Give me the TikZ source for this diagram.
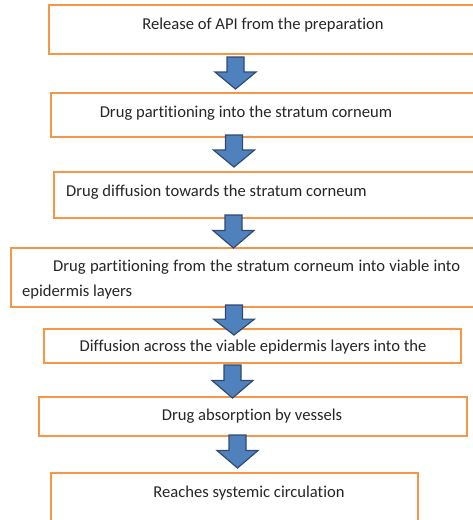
\documentclass[tikz,border=0pt]{standalone}
\usepackage{fontspec}
\setmainfont{Carlito}[Ligatures=NoCommon]
\definecolor{boxorange}{HTML}{F79646}
\definecolor{arrowfill}{HTML}{4F81BD}
\definecolor{arrowline}{HTML}{2F4B73}
\begin{document}
\begin{tikzpicture}[x=1pt,y=-1pt,
  box/.style={draw=boxorange,line width=1.3pt,fill=white},
  txt/.style={font=\fontsize{16.6}{25}\selectfont,text=black!85,inner sep=0pt},
  blockarrow/.style={fill=arrowfill,draw=arrowline,line width=1.2pt,line join=miter}]
\useasboundingbox (0,0) rectangle (473,520);
\fill[white] (0,0) rectangle (473,520);
% boxes
\draw[box] (49,5) rectangle (490,54) node[pos=0] (b1) {};
\draw[box] (51,93) rectangle (490,137) node[pos=0] (b2) {};
\draw[box] (54,172) rectangle (490,218) node[pos=0] (b3) {};
\draw[box] (11,248) rectangle (490,307) node[pos=0] (b4) {};
\draw[box] (44,329) rectangle (461,363) node[pos=0] (b5) {};
\draw[box] (39,397) rectangle (467,436) node[pos=0] (b6) {};
\draw[box] (51,473) rectangle (418,540) node[pos=0] (b7) {};
% texts
\node[txt] (t1) at (263,25) {Release of API from the preparation};
\node[txt] (t2) at (246,113) {Drug partitioning into the stratum corneum};
\node[txt,anchor=west] (t3) at (66,192) {Drug diffusion towards the stratum corneum};
\node[txt,anchor=west] (t4a) at (53,267) {\makebox[407pt][s]{Drug partitioning from the stratum corneum into viable into}};
\node[txt,anchor=west] (t4b) at (22,292) {epidermis layers};
\node[txt] (t5) at (253,347) {Diffusion across the viable epidermis layers into the};
\node[txt] (t6) at (252,416) {Drug absorption by vessels};
\node[txt] (t7) at (249,493) {Reaches systemic circulation};
% block arrows: centre x, top y, tip y
\foreach \cx/\ty/\tp in {235.5/57/89, 234/135/167, 233.5/215/248, 234/305/335, 232.5/365/398, 237.5/435/468}{
  \pgfmathsetmacro{\hb}{\ty+0.47*(\tp-\ty)}
  \draw[blockarrow] (\cx-8.5,\ty) -- (\cx+8.5,\ty) -- (\cx+8.5,\hb) -- (\cx+20.5,\hb)
    -- (\cx,\tp) -- (\cx-20.5,\hb) -- (\cx-8.5,\hb) -- cycle;
}
\end{tikzpicture}
\end{document}
